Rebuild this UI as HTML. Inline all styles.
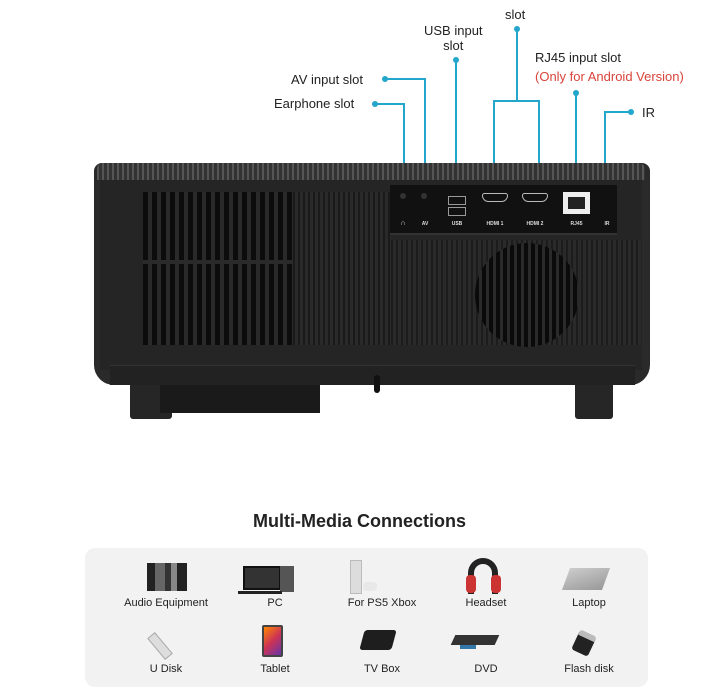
<!DOCTYPE html>
<html><head><meta charset="utf-8"><style>
*{margin:0;padding:0;box-sizing:border-box}
body{width:719px;height:699px;background:#fff;position:relative;overflow:hidden;font-family:"Liberation Sans",sans-serif}
.a{position:absolute}
.lbl{position:absolute;font-size:13px;color:#222;white-space:nowrap}
.ln{position:absolute;background:#23a6cc}
.dot{position:absolute;width:6px;height:6px;border-radius:50%;background:#23a6cc}
.it{position:absolute;width:110px;text-align:center;font-size:11px;color:#222}
.port{position:absolute;font-size:5px;color:#ddd;font-weight:bold;text-align:center}
</style></head><body>
<!-- labels -->
<div class="lbl" style="left:505px;top:7px">slot</div>
<div class="lbl" style="left:424px;top:23px;text-align:center;line-height:15px">USB input<br>slot</div>
<div class="lbl" style="left:535px;top:50px">RJ45 input slot</div>
<div class="lbl" style="left:535px;top:69px;color:#d9443a">(Only for Android Version)</div>
<div class="lbl" style="left:291px;top:72px">AV input slot</div>
<div class="lbl" style="left:274px;top:96px">Earphone slot</div>
<div class="lbl" style="left:642px;top:105px">IR</div>
<!-- lines -->
<div class="dot" style="left:372px;top:101px"></div><div class="ln" style="left:375px;top:103px;width:30px;height:2px"></div><div class="ln" style="left:403px;top:103px;width:2px;height:85px"></div>
<div class="dot" style="left:382px;top:76px"></div><div class="ln" style="left:385px;top:78px;width:41px;height:2px"></div><div class="ln" style="left:424px;top:78px;width:2px;height:110px"></div>
<div class="dot" style="left:453px;top:57px"></div><div class="ln" style="left:455px;top:60px;width:2px;height:150px"></div>
<div class="dot" style="left:514px;top:26px"></div><div class="ln" style="left:516px;top:29px;width:2px;height:72px"></div><div class="ln" style="left:493px;top:100px;width:47px;height:2px"></div><div class="ln" style="left:493px;top:100px;width:2px;height:92px"></div><div class="ln" style="left:538px;top:100px;width:2px;height:92px"></div>
<div class="dot" style="left:573px;top:90px"></div><div class="ln" style="left:575px;top:93px;width:2px;height:110px"></div>
<div class="dot" style="left:628px;top:109px"></div><div class="ln" style="left:604px;top:111px;width:27px;height:2px"></div><div class="ln" style="left:604px;top:111px;width:2px;height:85px"></div>
<!-- projector -->
<div class="a" style="left:130px;top:385px;width:42px;height:34px;background:#262626;border-radius:0 0 3px 3px"></div>
<div class="a" style="left:575px;top:385px;width:38px;height:34px;background:#262626;border-radius:0 0 3px 3px"></div>
<div class="a" style="left:160px;top:385px;width:160px;height:28px;background:#1a1a1a"></div>
<div class="a" style="left:94px;top:163px;width:556px;height:222px;background:#2a2a2a;border-radius:8px 8px 20px 20px"></div>
<div class="a" style="left:97px;top:163px;width:548px;height:17px;background:#3c3c3c;border-radius:6px 6px 0 0;background-image:repeating-linear-gradient(90deg,#555 0 2px,#333 2px 5px)"></div>
<div class="a" style="left:100px;top:180px;width:542px;height:190px;background:#252525"></div>
<div class="a" style="left:110px;top:365px;width:525px;height:20px;background:#222;border-top:1px solid #333"></div>
<div class="a" style="left:374px;top:375px;width:6px;height:18px;background:#111;border-radius:3px"></div>
<!-- left vent -->
<div class="a" style="left:143px;top:192px;width:150px;height:153px;background:repeating-linear-gradient(90deg,#0c0c0c 0 5px,#2a2a2a 5px 9px)"></div>
<div class="a" style="left:143px;top:260px;width:150px;height:4px;background:#2a2a2a"></div>
<div class="a" style="left:293px;top:192px;width:98px;height:153px;background:repeating-linear-gradient(90deg,#1a1a1a 0 2px,#2a2a2a 2px 5px)"></div>
<div class="a" style="left:391px;top:240px;width:250px;height:105px;background:repeating-linear-gradient(90deg,#1c1c1c 0 2px,#2a2a2a 2px 5px)"></div>
<div class="a" style="left:475px;top:243px;width:104px;height:104px;border-radius:50%;background:repeating-linear-gradient(90deg,#0a0a0a 0 4px,#2a2a2a 4px 7px)"></div>
<!-- port panel -->
<div class="a" style="left:390px;top:185px;width:227px;height:50px;background:#111;border-bottom:2px solid #333"></div>
<div class="a" style="left:400px;top:193px;width:6px;height:6px;border-radius:50%;background:#333"></div>
<div class="a" style="left:421px;top:193px;width:6px;height:6px;border-radius:50%;background:#333"></div>
<div class="a" style="left:448px;top:196px;width:18px;height:9px;border:1px solid #999"></div>
<div class="a" style="left:448px;top:207px;width:18px;height:9px;border:1px solid #999"></div>
<div class="a" style="left:482px;top:193px;width:26px;height:9px;border:1px solid #bbb;border-radius:3px 3px 8px 8px"></div>
<div class="a" style="left:522px;top:193px;width:26px;height:9px;border:1px solid #bbb;border-radius:3px 3px 8px 8px"></div>
<div class="a" style="left:563px;top:192px;width:27px;height:22px;background:#eee"><div class="a" style="left:5px;top:5px;width:17px;height:12px;background:#222"></div></div>
<div class="port" style="left:396px;top:220px;width:14px;font-size:7px">∩</div>
<div class="port" style="left:418px;top:221px;width:14px">AV</div>
<div class="port" style="left:446px;top:221px;width:22px">USB</div>
<div class="port" style="left:480px;top:221px;width:30px">HDMI 1</div>
<div class="port" style="left:520px;top:221px;width:30px">HDMI 2</div>
<div class="port" style="left:563px;top:221px;width:27px">RJ45</div>
<div class="port" style="left:600px;top:221px;width:14px">IR</div>
<!-- bottom -->
<div class="a" style="left:0;top:511px;width:719px;text-align:center;font-size:18px;font-weight:bold;color:#222">Multi-Media Connections</div>
<div class="a" style="left:85px;top:548px;width:563px;height:139px;background:#f2f2f2;border-radius:10px"></div>
<!-- icons row1 -->
<div class="a" style="left:147px;top:563px;width:40px;height:28px;background:linear-gradient(90deg,#222 0 20%,#666 20% 45%,#333 45% 60%,#888 60% 75%,#222 75%)"></div>
<div class="a" style="left:243px;top:566px;width:38px;height:24px;background:#333;border:2px solid #111"></div><div class="a" style="left:280px;top:566px;width:14px;height:26px;background:#555"></div><div class="a" style="left:238px;top:591px;width:44px;height:3px;background:#222"></div>
<div class="a" style="left:346px;top:0px"></div>
<div class="a" style="left:350px;top:560px;width:12px;height:34px;background:#ddd;border:1px solid #bbb"></div><div class="a" style="left:363px;top:582px;width:14px;height:9px;background:#e8e8e8;border-radius:4px"></div>
<div class="a" style="left:468px;top:558px;width:30px;height:36px;border:6px solid #222;border-bottom:none;border-radius:16px 16px 0 0"></div><div class="a" style="left:466px;top:575px;width:10px;height:18px;background:#c33;border-radius:4px"></div><div class="a" style="left:491px;top:575px;width:10px;height:18px;background:#c33;border-radius:4px"></div>
<div class="a" style="left:566px;top:568px;width:40px;height:22px;background:linear-gradient(160deg,#ccc,#999);transform:skewX(-20deg)"></div>
<div class="it" style="left:111px;top:597px">Audio Equipment</div>
<div class="it" style="left:220px;top:597px">PC</div>
<div class="it" style="left:327px;top:597px">For PS5 Xbox</div>
<div class="it" style="left:431px;top:597px">Headset</div>
<div class="it" style="left:534px;top:597px">Laptop</div>
<!-- icons row2 -->
<div class="a" style="left:155px;top:632px;width:10px;height:28px;background:#ddd;border:1px solid #aaa;transform:rotate(-40deg)"></div>
<div class="a" style="left:262px;top:625px;width:21px;height:32px;background:linear-gradient(135deg,#f80,#c35,#63a);border:2px solid #444;border-radius:2px"></div>
<div class="a" style="left:362px;top:630px;width:32px;height:20px;background:#1e1e1e;border-radius:3px;transform:skewX(-15deg)"></div>
<div class="a" style="left:453px;top:635px;width:44px;height:10px;background:#333;transform:skewX(-25deg)"></div><div class="a" style="left:460px;top:645px;width:16px;height:4px;background:#37a"></div>
<div class="a" style="left:575px;top:632px;width:18px;height:22px;background:#222;border-top:6px solid #bbb;border-radius:3px;transform:rotate(25deg)"></div>
<div class="it" style="left:111px;top:663px">U Disk</div>
<div class="it" style="left:220px;top:663px">Tablet</div>
<div class="it" style="left:327px;top:663px">TV Box</div>
<div class="it" style="left:431px;top:663px">DVD</div>
<div class="it" style="left:534px;top:663px">Flash disk</div>
</body></html>
